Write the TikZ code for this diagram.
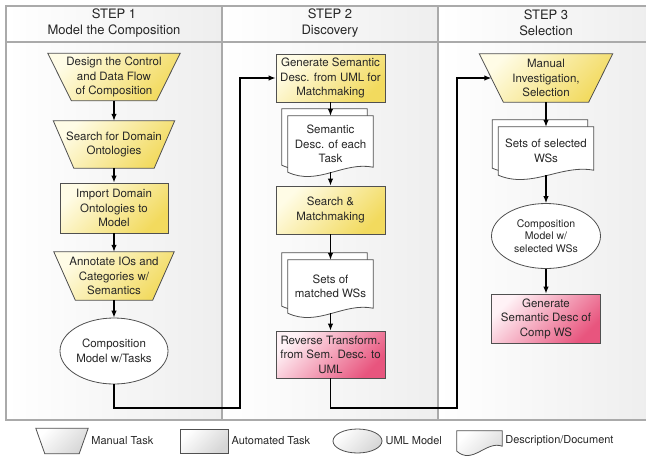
\documentclass[tikz,border=0pt]{standalone}
\usepackage{fontspec}
\setmainfont{TeX Gyre Heros}
\usetikzlibrary{arrows.meta,shapes.geometric,backgrounds,positioning}

\definecolor{linegray}{HTML}{505050}
\definecolor{lanegray}{HTML}{AAAAAA}
\definecolor{lanefill}{HTML}{EEEEEE}
\definecolor{yellowlight}{HTML}{FFFCE6}
\definecolor{yellowdark}{HTML}{F2DA5E}
\definecolor{pinklight}{HTML}{FFF2F6}
\definecolor{pinkdark}{HTML}{E8557E}
\definecolor{leggray}{HTML}{D6D6D6}

\pgfdeclarelayer{lanes}
\pgfdeclarelayer{pages}
\pgfsetlayers{lanes,pages,main}

\tikzset{
  every node/.style={font=\fontsize{11.5}{14.5}\selectfont, align=center, text=black!85},
  head/.style={font=\fontsize{13}{16}\selectfont},
  box/.style={rectangle, draw=linegray, line width=0.8pt, minimum width=109pt, minimum height=48pt, inner sep=1pt},
  auto/.style={box, top color=yellowlight, bottom color=yellowdark, shading angle=45},
  final/.style={box, top color=pinklight, bottom color=pinkdark, shading angle=45},
  manual/.style={rectangle, minimum height=47pt, inner sep=0pt},
  manfill/.style={draw=linegray, line width=0.8pt, top color=yellowlight, bottom color=yellowdark, shading angle=45},
  uml/.style={ellipse, draw=linegray, line width=0.8pt, fill=white, minimum width=108pt, minimum height=66pt, inner sep=0pt},
  docnode/.style={rectangle, minimum width=85pt, inner sep=0pt},
  docline/.style={draw=linegray, line width=0.8pt, fill=white},
  legfill/.style={top color=white, bottom color=leggray, shading angle=45},
  legtext/.style={font=\fontsize{11}{13}\selectfont, inner sep=0pt},
  flow/.style={-{Latex[length=7pt,width=5.5pt]}, line width=1.2pt},
  laneline/.style={draw=lanegray, line width=1.5pt},
}

% page with a wavy lower edge, drawn round a node
\newcommand{\docpage}[4][docline]{%
  \draw[#1] ([shift={#3}]#2.north west) -- ([shift={#3}]#2.north east)
    -- ([shift={#3},yshift=5pt]#2.south east)
    .. controls +(-#4,6pt) and +(#4,-14pt) .. ([shift={#3}]#2.south west) -- cycle;}

% manual task: wide on top, narrow below
\newcommand{\manualpage}[3][manfill]{%
  \draw[#1] (#2.north west) -- (#2.north east)
    -- ([xshift=-#3]#2.south east) -- ([xshift=#3]#2.south west) -- cycle;}

\begin{document}
\begin{tikzpicture}[x=1pt, y=-1pt]
    \useasboundingbox (0,0) rectangle (646,456);

    % swim lanes
    \begin{pgfonlayer}{lanes}
        \shade[left color=white, right color=lanefill] (6,6) rectangle (222,420);
        \shade[left color=white, right color=lanefill] (222,6) rectangle (438,420);
        \shade[left color=white, right color=lanefill] (438,6) rectangle (650,420);
        \draw[laneline] (6,6) rectangle (650,420);
        \draw[laneline] (6,42) -- (650,42);
        \draw[laneline] (222,6) -- (222,420);
        \draw[laneline] (438,6) -- (438,420);
    \end{pgfonlayer}

    \node[head] (head1) at (114,23) {STEP 1\\Model the Composition};
    \node[head] (head2) at (330,23) {STEP 2\\Discovery};
    \node[head] (head3) at (546,23) {STEP 3\\Selection};

    % step 1
    \node[manual, minimum width=132pt] (design) at (114,77) {Design the Control\\and Data Flow\\of Composition};
    \node[manual, minimum width=121pt] (search) at (114,144.5) {Search for Domain\\Ontologies};
    \node[auto, minimum width=108pt, minimum height=50pt] (import) at (114,208) {Import Domain\\Ontologies to\\Model};
    \node[manual, minimum width=120pt, minimum height=48pt] (annotate) at (114,276) {Annotate IOs and\\Categories w/\\Semantics};
    \node[uml] (model1) at (114,351) {Composition\\Model w/Tasks};

    % step 2
    \node[auto] (gensem) at (330.5,78) {Generate Semantic\\Desc. from UML for\\Matchmaking};
    \node[docnode, minimum height=56pt] (semdesc) at (330.5,144) {Semantic\\Desc. of each\\Task};
    \node[auto] (matchmk) at (330.5,210) {Search \&\\Matchmaking};
    \node[docnode, minimum height=53pt] (matched) at (330.5,286.5) {Sets of\\matched WSs};
    \node[final, minimum height=47pt] (reverse) at (330.5,354.5) {Reverse Transform.\\from Sem. Desc. to\\UML};

    % step 3
    \node[manual, minimum width=133pt, minimum height=48pt] (investig) at (546,78) {Manual\\Investigation,\\Selection};
    \node[docnode, minimum width=95pt, minimum height=48pt] (selected) at (546,151) {Sets of selected\\WSs};
    \node[uml, minimum width=109pt, minimum height=65pt, font=\fontsize{10.5}{12.5}\selectfont] (model3) at (546,236) {Composition\\Model w/\\selected WSs};
    \node[final, minimum height=49pt] (gencomp) at (546,318.5) {Generate\\Semantic Desc of\\Comp WS};

    % legend
    \node[manual, minimum width=52pt, minimum height=25pt] (legmanual) at (62,441) {};
    \node[legtext, right=3pt of legmanual] (txtmanual) {Manual Task};
    \node[box, legfill, minimum width=48pt, minimum height=24pt] (legauto) at (204,441) {};
    \node[legtext, right=3pt of legauto] (txtauto) {Automated Task};
    \node[uml, legfill, minimum width=49pt, minimum height=24pt] (leguml) at (357.5,441) {};
    \node[legtext, right=3pt of leguml] (txtuml) {UML Model};
    \node[docnode, minimum width=45pt, minimum height=20pt] (legdoc) at (479.5,441) {};
    \node[legtext, right=3pt of legdoc] (txtdoc) {Description/Document};

    % shapes behind the manual tasks and descriptions
    \begin{pgfonlayer}{pages}
        \manualpage{design}{23.5pt}
        \manualpage{search}{20.5pt}
        \manualpage{annotate}{21.5pt}
        \manualpage{investig}{24pt}
        \manualpage[manfill, legfill]{legmanual}{9pt}
        \docpage{semdesc}{(-6pt,7pt)}{30pt}
        \docpage{semdesc}{(0pt,0pt)}{30pt}
        \docpage{matched}{(-6pt,7pt)}{30pt}
        \docpage{matched}{(0pt,0pt)}{30pt}
        \docpage{selected}{(-6pt,7pt)}{33pt}
        \docpage{selected}{(0pt,0pt)}{33pt}
        \docpage[docline, legfill]{legdoc}{(0pt,0pt)}{16pt}
    \end{pgfonlayer}

    % flow inside the steps
    \draw[flow] (design.south) -- (search.north);
    \draw[flow] (search.south) -- (import.north);
    \draw[flow] (import.south) -- (annotate.north);
    \draw[flow] (annotate.south) -- (model1.north);
    \draw[flow] (gensem.south) -- (semdesc.north);
    \draw[flow] (semdesc.south) -- (matchmk.north);
    \draw[flow] (matchmk.south) -- (matched.north);
    \draw[flow] (matched.south) -- (reverse.north);
    \draw[flow] (investig.south) -- (selected.north);
    \draw[flow] (selected.south) -- (model3.north);
    \draw[flow] (model3.south) -- (gencomp.north);

    % hand-over between the steps
    \coordinate (turn1) at (240,408);
    \coordinate (turn2) at (457,408);
    \coordinate (investigin) at ([xshift=12pt]investig.west);
    \draw[flow] (model1.south) |- (turn1) |- (gensem.west);
    \draw[flow] (reverse.south) |- (turn2) |- (investigin);
\end{tikzpicture}
\end{document}
